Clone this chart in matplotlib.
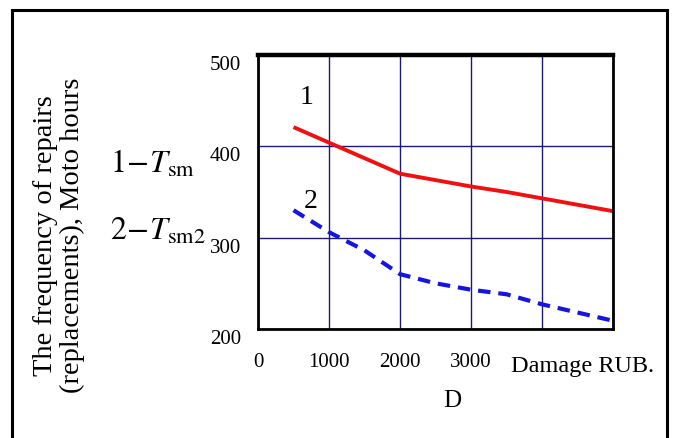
import matplotlib
matplotlib.use("Agg")
import matplotlib.pyplot as plt
from matplotlib.patches import Rectangle
from matplotlib.transforms import ScaledTranslation

# damage D, RUB.
damage = [500, 1000, 1500, 2000, 2500, 3000, 3500, 4000, 4500, 5000]
# 1 - T_sm
t_sm = [421, 404, 387, 370, 363, 356, 350, 343, 336, 329]
# 2 - T_sm2
t_sm2 = [330, 306, 286, 260, 250, 243, 238, 227, 218, 209]

x_ticks = [0, 1000, 2000, 3000, 4000, 5000]
x_labels = ["0", "1000", "2000", "3000", "", ""]
y_ticks = [200, 300, 400, 500]

plt.rcParams['font.family'] = ['Liberation Serif', 'DejaVu Serif']
plt.rcParams['mathtext.fontset'] = 'stix'

fig = plt.figure(figsize=(6.73, 4.38), dpi=100)
ax = fig.add_axes([0.3834, 0.2489, 0.5275, 0.6256])

ax.plot(damage, t_sm, color="#ee1111", lw=2.8, solid_capstyle="butt")
ax.plot(damage, t_sm2, color="#1515dd", lw=3.0, dashes=(3.0, 1.9))

ax.set_xlim(0, 5000)
ax.set_ylim(200, 500)
ax.set_xticks(x_ticks)
ax.set_xticklabels(x_labels)
ax.set_yticks(y_ticks)
ax.tick_params(length=0, labelsize=15, pad=12)
ax.tick_params(axis="x", pad=17)
ax.grid(True, color="#1a1a6e", lw=1.0)
for s in ["left", "bottom", "right"]:
    ax.spines[s].set_linewidth(2.0)
ax.spines["top"].set_linewidth(3.2)

# y tick labels sit a little below their grid lines
shift = ScaledTranslation(0, -0.08, fig.dpi_scale_trans)
for lab in ax.get_yticklabels():
    lab.set_transform(lab.get_transform() + shift)

# curve numbers
ax.text(690, 453, "1", fontsize=20, ha="center", va="center")
ax.text(735, 340, "2", fontsize=20, ha="center", va="center")

fig.text(0.76, 0.164, "Damage RUB.", fontsize=17.5, ha="left", va="center")
fig.text(0.672, 0.085, "D", fontsize=18, ha="center", va="center")

fig.text(0.163, 0.605, r"$1\!-\!T_{\mathrm{sm}}$", fontsize=23, ha="left", va="baseline")
fig.text(0.163, 0.452, r"$2\!-\!T_{\mathrm{sm2}}$", fontsize=23, ha="left", va="baseline")

fig.text(0.088, 0.463, "The frequency of repairs\n(replacements), Moto hours",
         fontsize=20.5, rotation=90, ha="center", va="center", linespacing=1.08)

fig.patches.append(Rectangle((12 / 673, -0.05), 655 / 673, 1.05 - 10 / 438,
                             transform=fig.transFigure, fill=False,
                             edgecolor="black", lw=2.2))

fig.savefig("out.png", dpi=100)
